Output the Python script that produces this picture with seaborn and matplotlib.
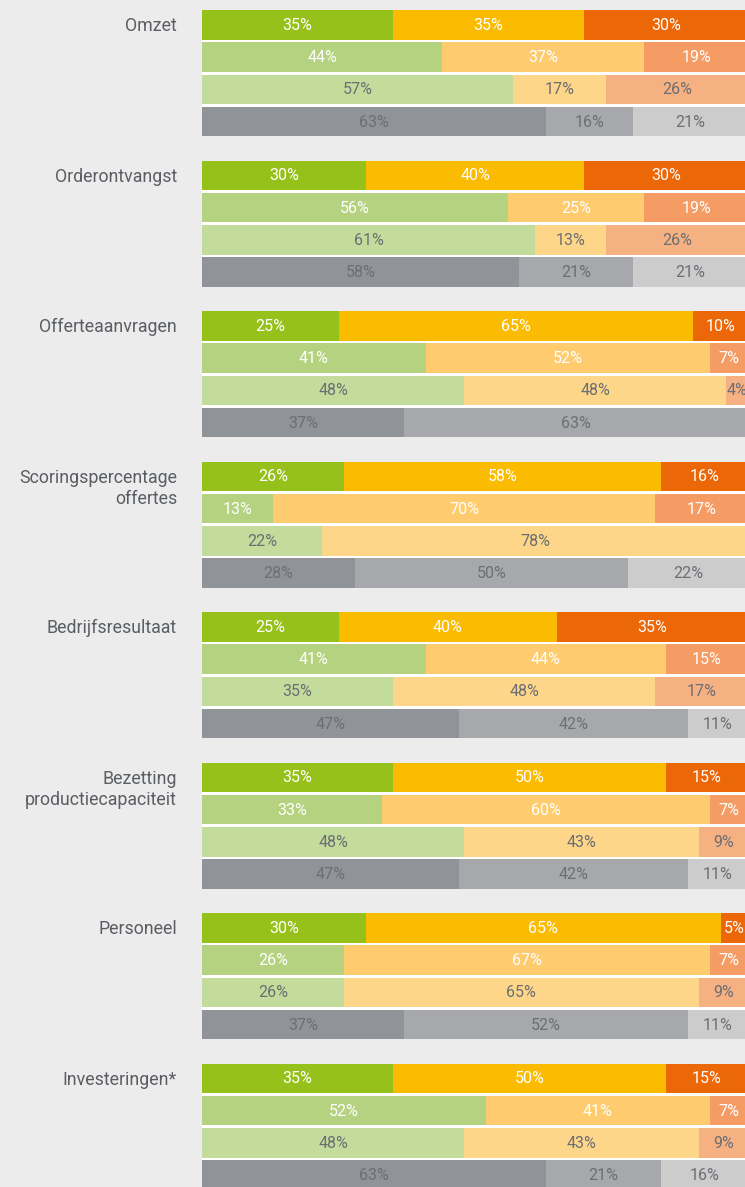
import matplotlib
matplotlib.use("Agg")
import numpy as np
import matplotlib.pyplot as plt
import seaborn as sns

# ---------- Data ----------
categories = [
    "Omzet",
    "Orderontvangst",
    "Offerteaanvragen",
    "Scoringspercentage\noffertes",
    "Bedrijfsresultaat",
    "Bezetting\nproductiecapaciteit",
    "Personeel",
    "Investeringen*",
]

# each category has 4 rows; three stacked segments per row (first / middle / last)
seg_first = [[35, 44, 57, 63], [30, 56, 61, 58], [25, 41, 48, 37], [26, 13, 22, 28],
             [25, 41, 35, 47], [35, 33, 48, 47], [30, 26, 26, 37], [35, 52, 48, 63]]
seg_mid = [[35, 37, 17, 16], [40, 25, 13, 21], [65, 52, 48, 63], [58, 70, 78, 50],
           [40, 44, 48, 42], [50, 60, 43, 42], [65, 67, 65, 52], [50, 41, 43, 21]]
seg_last = [[30, 19, 26, 21], [30, 19, 26, 21], [10, 7, 4, 0], [16, 17, 0, 22],
            [35, 15, 17, 11], [15, 7, 9, 11], [5, 7, 9, 11], [15, 7, 9, 16]]

row_colors = [
    ["#95c11a", "#fbbb00", "#ec6707"],
    ["#b4d27f", "#fecc6e", "#f59c64"],
    ["#c3dc9b", "#fed68a", "#f6b183"],
    ["#909398", "#a7a8ac", "#cccccd"],
]
text_colors = ["white", "white", "#6b6e73", "#6b6e73"]

# ---------- Layout (pixels) ----------
W, H = 745, 1187
first_center = 24.8
row_pitch = 32.3
group_pitch = 150.5
bar_h = 29.5

sns.set_theme(style="white")
plt.rcParams["font.family"] = ["Roboto", "DejaVu Sans"]

fig = plt.figure(figsize=(W / 100, H / 100), dpi=100)
fig.patch.set_facecolor("#ececec")
ax = fig.add_axes([202 / W, 0, 546 / W, 1])
ax.set_facecolor("none")
ax.set_xlim(0, 100)
ax.set_ylim(H, 0)
ax.axis("off")

for g, cat in enumerate(categories):
    centers = first_center + g * group_pitch + np.arange(4) * row_pitch
    # white backing so gaps between rows appear white
    top = centers[0] - bar_h / 2
    bottom = centers[-1] + bar_h / 2
    ax.barh((top + bottom) / 2, 100, height=bottom - top, left=0,
            color="white", linewidth=0, zorder=1)
    for r in range(4):
        vals = [seg_first[g][r], seg_mid[g][r], seg_last[g][r]]
        left = 0
        for k, v in enumerate(vals):
            if v > 0:
                ax.text(left + v / 2, centers[r] + 0.5, f"{v}%", ha="center", va="center",
                        fontsize=11.5, color=text_colors[r], zorder=3)
                ax.barh(centers[r], v, height=bar_h, left=left,
                        color=row_colors[r][k], linewidth=0, zorder=2)
            left += v
    nlines = cat.count("\n") + 1
    fig.text(177 / W, 1 - (centers[0] + 1.5 + (nlines - 1) * 10.7) / H, cat,
             ha="right", va="center", fontsize=12.8, color="#5a5e63",
             linespacing=1.15)

fig.savefig("out.png", dpi=100, facecolor=fig.get_facecolor())
